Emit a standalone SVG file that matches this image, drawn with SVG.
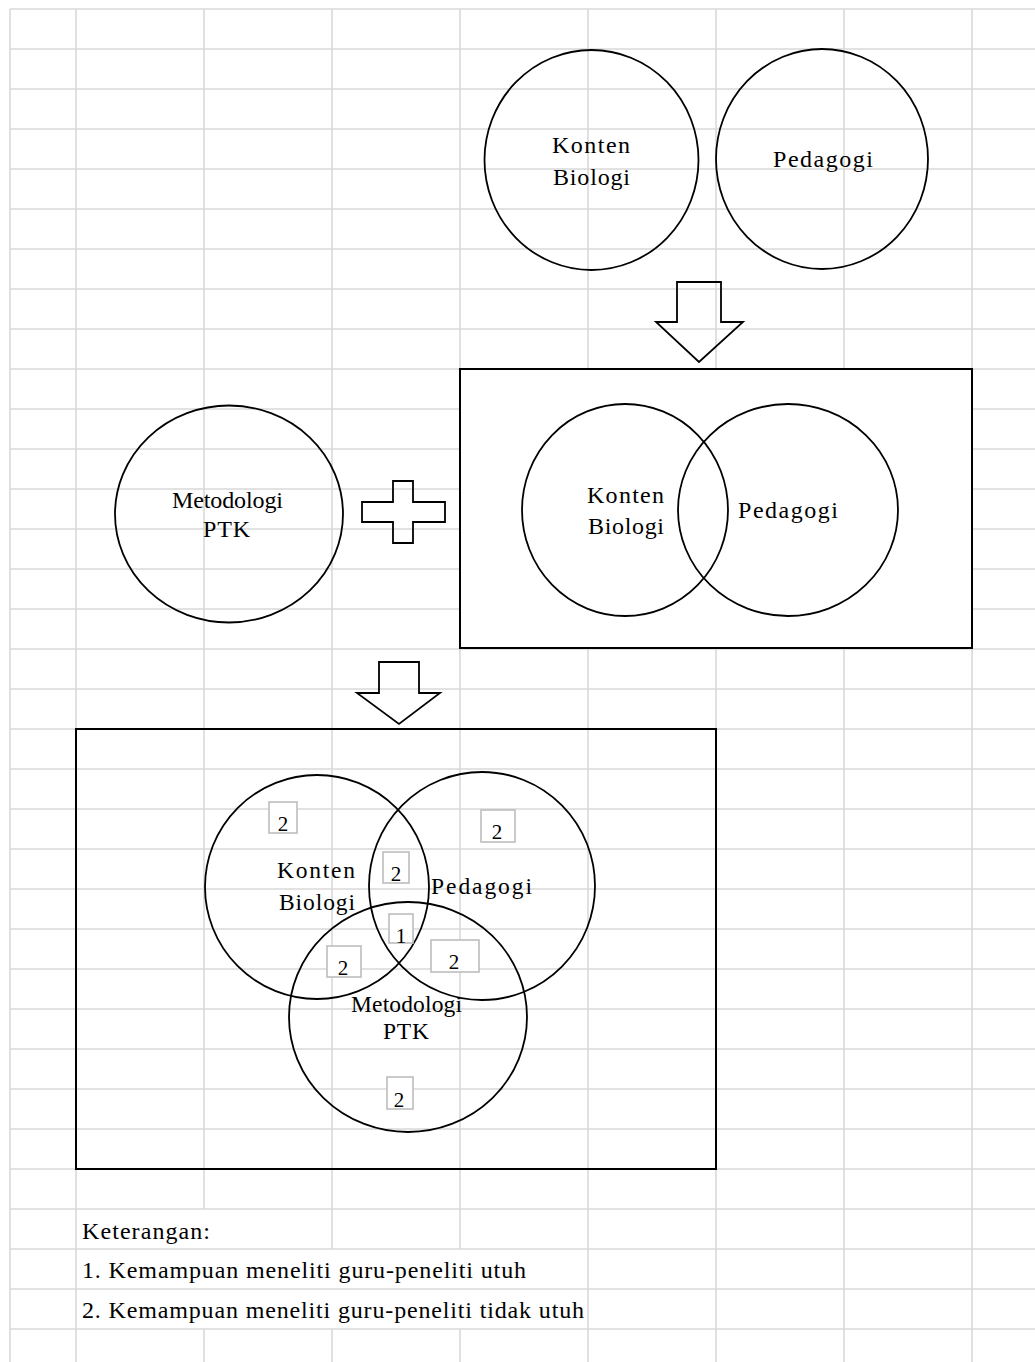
<svg xmlns="http://www.w3.org/2000/svg" width="1035" height="1362" viewBox="0 0 1035 1362" font-family="'Liberation Serif', 'Times New Roman', serif">
<style>
.g{stroke:#d9d9d9;stroke-width:1.6;fill:none}
.sh{stroke:#000;stroke-width:1.8;fill:none}
.box{stroke:#000;stroke-width:2;}
.nb{stroke:#bdbdbd;stroke-width:1.6;fill:#fff}
text{font-family:"Liberation Serif","Times New Roman",serif;fill:#000}
.lb{font-size:24px}
.vl{font-size:23.5px}
.dg{font-size:21px;text-anchor:middle}
.lg{font-size:24px}
</style>
<rect width="1035" height="1362" fill="#fff"/>
<g id="grid" class="g">
<path d="M10 9V1362M76 9V1362M204 9V1209M204 1329V1362M332 9V1249M332 1329V1362M460 9V1249M460 1329V1362M588 9V1362M716 9V1362M844 9V1362M972 9V1362"/>
<path d="M10 9H1035M10 49H1035M10 89H1035M10 129H1035M10 169H1035M10 209H1035M10 249H1035M10 289H1035M10 329H1035M10 369H1035M10 409H1035M10 449H1035M10 489H1035M10 529H1035M10 569H1035M10 609H1035M10 649H1035M10 689H1035M10 729H1035M10 769H1035M10 809H1035M10 849H1035M10 889H1035M10 929H1035M10 969H1035M10 1009H1035M10 1049H1035M10 1089H1035M10 1129H1035M10 1169H1035M10 1209H1035M10 1249H1035M10 1289H1035M10 1329H1035"/>
</g>
<g id="top-konten">
<ellipse class="sh" cx="591.5" cy="160" rx="107" ry="110"/>
<text class="lb" x="552" y="153" textLength="78" lengthAdjust="spacing">Konten</text>
<text class="lb" x="553" y="185" textLength="77" lengthAdjust="spacing">Biologi</text>
</g>
<g id="top-pedagogi">
<ellipse class="sh" cx="822" cy="159" rx="106" ry="110"/>
<text class="lb" x="773" y="167" textLength="100" lengthAdjust="spacing">Pedagogi</text>
</g>
<g id="combo-box">
<rect class="box" x="460" y="369" width="512" height="279" fill="#fff"/>
<ellipse class="sh" cx="625" cy="510" rx="103" ry="106"/>
<ellipse class="sh" cx="788" cy="510" rx="110" ry="106"/>
<text class="lb" x="587" y="503" textLength="77" lengthAdjust="spacing">Konten</text>
<text class="lb" x="588" y="534" textLength="76" lengthAdjust="spacing">Biologi</text>
<text class="lb" x="738" y="518" textLength="100" lengthAdjust="spacing">Pedagogi</text>
</g>
<g id="metodologi">
<ellipse class="sh" cx="229" cy="514" rx="114" ry="108.5"/>
<text class="lb" x="172" y="508" textLength="111" lengthAdjust="spacing">Metodologi</text>
<text class="lb" x="203" y="537" textLength="47" lengthAdjust="spacing">PTK</text>
</g>
<g id="connectors">
<path class="sh" d="M677 282H721V322H743L699 362L656 322H677Z"/>
<path class="sh" d="M393 481H413V502H445V522H413V543H393V522H362V502H393Z"/>
<path class="sh" d="M379 662H419V693H440L399 724L357 693H379Z"/>
</g>
<g id="venn-box">
<rect class="box" x="76" y="729" width="640" height="440" fill="none"/>
</g>
<g id="venn-konten">
<ellipse class="sh" cx="317" cy="887" rx="112" ry="112"/>
<text class="vl" x="277" y="878" textLength="78" lengthAdjust="spacing">Konten</text>
<text class="vl" x="279" y="910" textLength="76" lengthAdjust="spacing">Biologi</text>
</g>
<g id="venn-pedagogi">
<ellipse class="sh" cx="482" cy="886" rx="113" ry="114"/>
<text class="vl" x="431" y="894" textLength="101" lengthAdjust="spacing">Pedagogi</text>
</g>
<g id="venn-metodologi">
<ellipse class="sh" cx="408" cy="1017" rx="119" ry="115"/>
<text class="vl" x="351" y="1012" textLength="111" lengthAdjust="spacing">Metodologi</text>
<text class="vl" x="383" y="1039" textLength="46" lengthAdjust="spacing">PTK</text>
</g>
<g id="marks">
<g id="m1"><rect class="nb" x="269" y="802" width="28" height="31"/><text class="dg" x="283" y="831">2</text></g>
<g id="m2"><rect class="nb" x="481" y="810" width="34" height="32"/><text class="dg" x="497" y="839">2</text></g>
<g id="m3"><rect class="nb" x="383" y="852" width="26" height="31"/><text class="dg" x="396" y="881">2</text></g>
<g id="m4"><rect class="nb" x="389" y="914" width="24" height="29"/><text class="dg" x="401" y="943">1</text></g>
<g id="m5"><rect class="nb" x="327" y="946" width="34" height="31"/><text class="dg" x="343" y="975">2</text></g>
<g id="m6"><rect class="nb" x="431" y="940" width="48" height="32"/><text class="dg" x="454" y="969">2</text></g>
<g id="m7"><rect class="nb" x="387" y="1077" width="26" height="32"/><text class="dg" x="399" y="1107">2</text></g>
</g>
<g id="legend" xml:space="preserve">
<text class="lg" x="82" y="1239" textLength="128" lengthAdjust="spacing">Keterangan:</text>
<text class="lg" x="82" y="1278" textLength="444" lengthAdjust="spacing">1. Kemampuan meneliti  guru-peneliti utuh</text>
<text class="lg" x="82" y="1318" textLength="502" lengthAdjust="spacing">2. Kemampuan meneliti  guru-peneliti tidak utuh</text>
</g>
</svg>
